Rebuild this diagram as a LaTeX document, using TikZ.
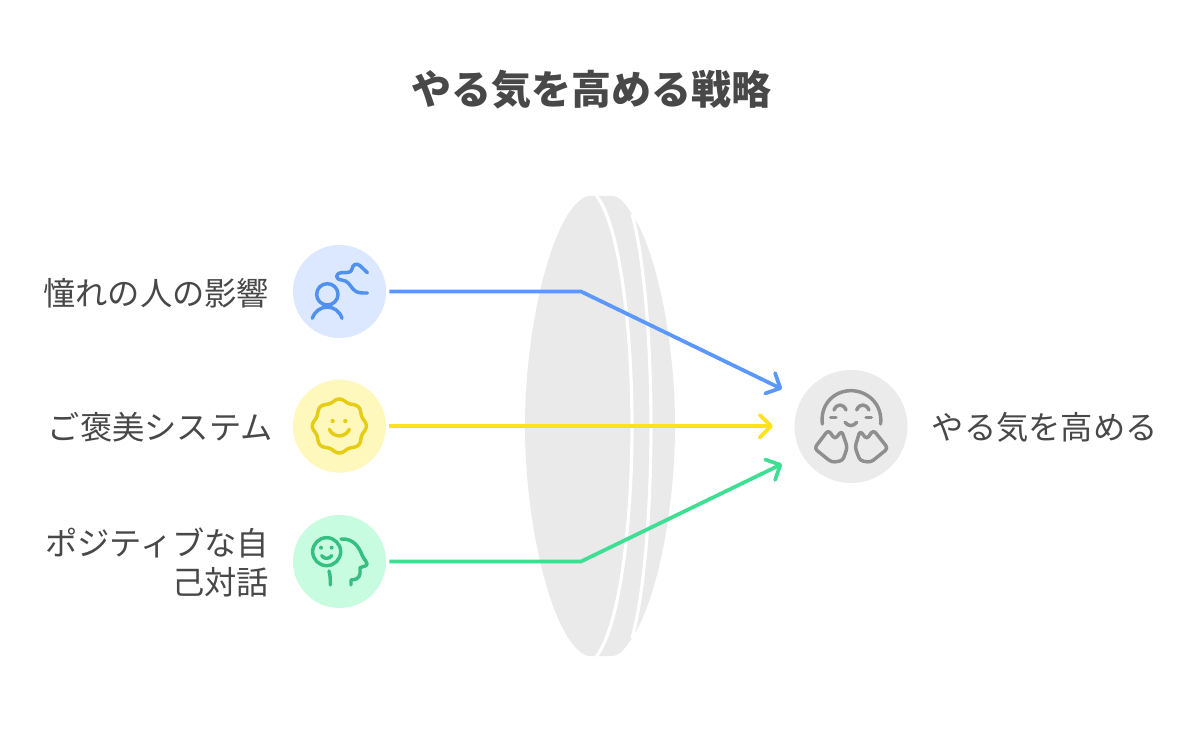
\documentclass[tikz,border=0pt]{standalone}
\usepackage{fontspec}
\setmainfont{Noto Sans CJK JP}
\usetikzlibrary{arrows.meta}
\definecolor{txt}{HTML}{484848}
\definecolor{lens}{HTML}{EAEAEA}
\definecolor{bluec}{HTML}{DBE8FF}\definecolor{bluei}{HTML}{5090EE}\definecolor{bluel}{HTML}{5A98FF}
\definecolor{yelc}{HTML}{FFF8BC}\definecolor{yeli}{HTML}{E6CC12}\definecolor{yell}{HTML}{FFE11E}
\definecolor{grnc}{HTML}{C8FCE0}\definecolor{grni}{HTML}{35C082}\definecolor{grnl}{HTML}{3DDF92}
\definecolor{gryc}{HTML}{EBEBEB}\definecolor{gryi}{HTML}{8F8F8F}
\tikzset{
  disc/.style={circle,inner sep=0pt,outer sep=2.6pt,minimum size=69.75pt},
  label/.style={text=txt,font=\fontsize{24.2pt}{29.25pt}\selectfont,inner sep=0pt,align=right},
  conn/.style={line width=2.8pt,line join=miter,-{Straight Barb[length=8.5pt,width=17pt,line width=2.8pt,round]}},
  icon/.style={line width=2.6pt,line cap=round,line join=round},
}
\begin{document}
\begin{tikzpicture}[x=0.75pt,y=-0.75pt]
\useasboundingbox (0,0) rectangle (1200,737);
\fill[white] (0,0) rectangle (1200,737);
% lens
\fill[lens] (588,196) .. controls (555,205) and (525,320) .. (525,426)
  .. controls (525,532) and (555,647) .. (588,656) -- (612,656)
  .. controls (620,656) and (626,647) .. (632,638)
  .. controls (657,600) and (675,510) .. (675,426)
  .. controls (675,342) and (657,252) .. (632,214)
  .. controls (626,205) and (620,196) .. (612,196) -- cycle;
\draw[white,line width=2.4pt] (596,195) .. controls (620,225) and (632,330) .. (632,426)
  .. controls (632,522) and (620,627) .. (596,657);
\draw[white,line width=2.4pt] (632,214) .. controls (645,260) and (651,350) .. (651,426)
  .. controls (651,502) and (645,592) .. (632,638);
% title
\node[text=txt,font=\fontsize{30pt}{36pt}\selectfont\bfseries,inner sep=0pt] (title) at (591,90) {やる気を高める戦略};
% discs
\node[disc,fill=bluec] (a) at (339.5,291.5) {};
\node[disc,fill=yelc] (b) at (339.5,426.2) {};
\node[disc,fill=grnc] (c) at (339.5,561.5) {};
\node[circle,inner sep=0pt,minimum size=84.75pt,fill=gryc] (t) at (851,426.5) {};
% labels
\node[label,anchor=east] (la) at (269.5,293) {憧れの人の影響};
\node[label,anchor=east] (lb) at (273,427.5) {ご褒美システム};
\node[label,anchor=east] (lc) at (269.5,562.5) {ポジティブな自\\己対話};
\node[label,anchor=west] (lt) at (931.5,427.5) {やる気を高める};
% connectors
\coordinate (ka) at (581,291.5);
\coordinate (kc) at (581,561.5);
\coordinate (ea) at (782,389);
\coordinate (eb) at (773,426.2);
\coordinate (ec) at (782,464);
\draw[conn,bluel] (a.east) -- (ka) -- (ea);
\draw[conn,yell] (b.east) -- (eb);
\draw[conn,grnl] (c.east) -- (kc) -- (ec);
% blue icon
\begin{scope}[shift={(280,235)},x=0.25pt,y=-0.25pt]
\draw[icon,bluei] (142,178) circle[radius=32];
\draw[icon,bluei] (97,250) .. controls (112,205) and (172,205) .. (186,250);
\draw[icon,bluei] (262,113) -- (240,92) .. controls (228,82) and (218,90) .. (216,102)
  .. controls (214,114) and (200,113) .. (185,113) .. controls (165,115) and (165,133) .. (185,135)
  .. controls (205,137) and (208,150) .. (220,163) .. controls (230,175) and (245,174) .. (262,174);
\end{scope}
% yellow icon
\begin{scope}[shift={(280,370)},x=0.25pt,y=-0.25pt]
\draw[icon,yeli] plot[domain=0:360,samples=121,smooth] ({178+(77+4*cos(8*\x))*cos(\x)},{168+(77+4*cos(8*\x))*sin(\x)}) -- cycle;
\fill[yeli] (158,153) circle[radius=6.5] (196,153) circle[radius=6.5];
\draw[icon,yeli] (148,178) .. controls (160,204) and (196,204) .. (208,178);
\end{scope}
% green icon
\begin{scope}[shift={(280,505)},x=0.25pt,y=-0.25pt]
\draw[icon,grni] (140,140) circle[radius=42];
\fill[grni] (123,128) circle[radius=6] (155,128) circle[radius=6];
\draw[icon,grni] (125,152) .. controls (133,163) and (147,163) .. (155,152);
\draw[icon,grni] (147,198) .. controls (151,210) and (151,225) .. (151,240);
\draw[icon,grni] (183,102) .. controls (222,100) and (238,128) .. (246,150)
  .. controls (250,162) and (268,176) .. (258,182) -- (240,188) -- (240,205)
  .. controls (238,222) and (225,224) .. (213,225) -- (213,240);
\end{scope}
% target icon
\begin{scope}[shift={(760,360)},x=0.25pt,y=-0.25pt]
\draw[icon,gryi] (187,192) .. controls (180,130) and (225,92) .. (273,92) .. controls (320,92) and (368,130) .. (362,192);
\draw[icon,gryi] (222,150) .. controls (230,130) and (250,130) .. (258,150);
\draw[icon,gryi] (290,150) .. controls (298,130) and (318,130) .. (327,150);
\draw[icon,gryi] (212,172) -- (228,172) (318,172) -- (334,172);
\draw[icon,gryi] (255,187) .. controls (265,200) and (280,200) .. (290,187);
\draw[icon,gryi,rounded corners=2.5pt] (205,210) -- (225,238) -- (245,212) -- (262,262) -- (248,302) -- (215,307) -- (163,265) -- cycle;
\draw[icon,gryi,rounded corners=2.5pt] (340,210) -- (320,238) -- (300,212) -- (285,262) -- (300,302) -- (332,307) -- (384,265) -- cycle;
\end{scope}
\end{tikzpicture}
\end{document}
